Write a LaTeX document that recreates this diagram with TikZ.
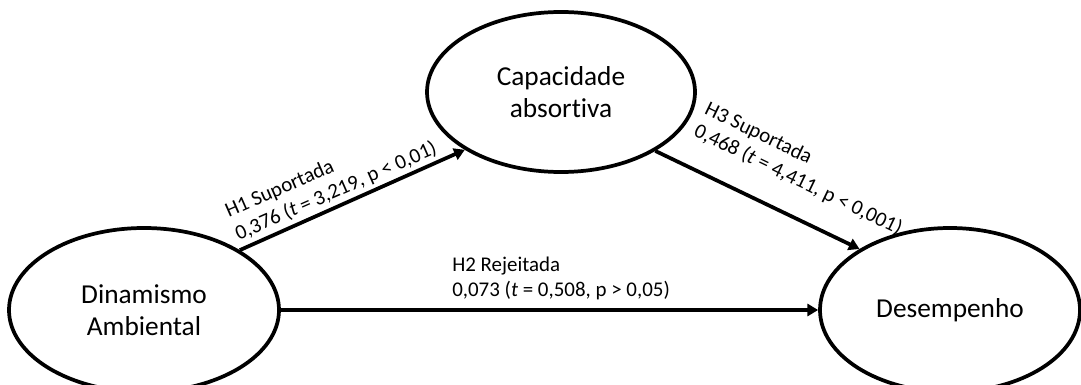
\documentclass[tikz,border=0pt]{standalone}
\usepackage{fontspec}
\setmainfont{Carlito}[Ligatures={NoCommon}]
\usetikzlibrary{shapes.geometric,arrows.meta}
\begin{document}
\begin{tikzpicture}[x=0.75pt,y=-0.75pt,
  construct/.style={ellipse, draw, line width=2.8pt, inner sep=0pt, align=center, font=\fontsize{20.5}{24}\selectfont},
  link/.style={line width=2.8pt, -{Triangle[length=8pt,width=9pt]}},
  lbl/.style={align=left, inner sep=0pt, font=\fontsize{15.7}{18.5}\selectfont}]
\useasboundingbox (0,0) rectangle (1081,385);
\node[construct, minimum width=202.5pt, minimum height=123pt] (dyn) at (144,310) {Dinamismo\\Ambiental};
\node[construct, minimum width=201pt, minimum height=120pt] (cap) at (561,92) {Capacidade\\absortiva};
\node[construct, minimum width=195pt, minimum height=123pt] (des) at (950,310) {Desempenho};
\draw[link] (dyn.32) -- (cap.211);
\draw[link] (dyn.east) -- (des.west);
\draw[link] (cap.328) -- (des.146);
\node[lbl, rotate=23.7, anchor=south west] (l1) at (240,244) {H1 Suportada\\0,376 (\textit{t} = 3,219, p < 0,01)};
\node[lbl, anchor=south west] (l2) at (452,300) {H2 Rejeitada\\0,073 (\textit{t} = 0,508, p > 0,05)};
\node[lbl, rotate=-25.8, anchor=south west] (l3) at (691,139) {H3 Suportada\\0,468 (\textit{t} = 4,411, p < 0,001)};
\end{tikzpicture}
\end{document}
